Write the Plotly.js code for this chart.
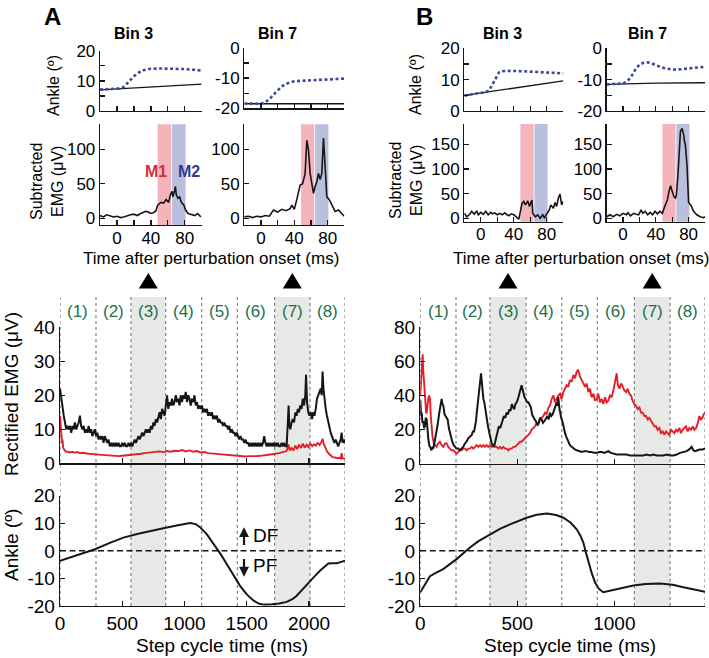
<!DOCTYPE html>
<html><head><meta charset="utf-8">
<script src="https://cdn.plot.ly/plotly-3.0.1.min.js"></script>
<style>html,body{margin:0;padding:0;background:#fff;}#chart{width:709px;height:658px;}</style>
</head><body><div id="chart"></div>
<script>
// ---------------- DATA ----------------
// step-cycle bin edges (ms)
const binEdgesA = [0, 289, 570, 849, 1138, 1424, 1724, 2008, 2289];
const binEdgesB = [0, 184, 359, 545, 729, 912, 1103, 1287, 1467];
const binLabels = ['(1)','(2)','(3)','(4)','(5)','(6)','(7)','(8)'];
const shadedBins = [2, 6];           // bins 3 and 7 (0-based)
const m1Window = [48, 64];
const m2Window = [65, 81];

// Panel A, Bin 3: ankle (deg)
const aB3BaseT = [-20, 100];
const aB3Base  = [7.0, 8.9];
const aB3PertT = [-20,-10,0,4,8,12,16,20,24,28,32,40,50,60,70,80,90,100];
const aB3Pert  = [7.1,7.2,7.3,7.5,8.0,9.0,10.3,11.5,12.5,13.2,13.6,14.0,14.1,14.1,14.0,13.9,13.7,13.4];
// Panel A, Bin 7: ankle
const aB7BaseT = [-20, 100];
const aB7Base  = [-18.5, -18.5];
const aB7PertT = [-20,-10,0,5,10,15,20,25,30,35,40,50,60,70,80,90,100];
const aB7Pert  = [-18.4,-18.5,-18.5,-18.0,-17.0,-15.5,-14.0,-12.8,-11.9,-11.4,-11.1,-10.9,-10.8,-10.7,-10.6,-10.4,-10.2];
// Panel B, Bin 3: ankle
const bB3BaseT = [-20, 100];
const bB3Base  = [5.0, 9.6];
const bB3PertT = [-20,-10,0,5,10,14,18,22,26,35,50,65,80,100];
const bB3Pert  = [4.9,5.3,5.7,6.0,6.5,8.5,10.8,12.3,12.7,12.8,12.7,12.5,12.3,12.0];
// Panel B, Bin 7: ankle
const bB7BaseT = [-20, 40, 100];
const bB7Base  = [-11.5, -11.1, -11.0];
const bB7PertT = [-20,-10,0,5,10,15,20,25,30,35,40,50,60,70,80,90,100];
const bB7Pert  = [-11.5,-11.4,-11.2,-10.6,-9.0,-6.8,-5.2,-4.6,-4.5,-4.8,-5.4,-6.3,-6.8,-6.7,-6.4,-6.1,-5.9];

// Subtracted EMG (uV)
const aB3EmgT = [-20,-16,-12,-8,-4,0,4,8,12,16,20,24,28,31,34,37,40,43,46,48,50,52,55,58,61,63,65,66,68,69,70,72,74,76,79,81,84,88,92,95,99];
const aB3Emg  = [4,2,5,3,2,3,1,2,4,5,6,4,7,8,10,9,7,8,11,19,21,23,22,27,23,34,39,31,40,46,34,29,31,23,19,12,7,5,4,7,2];
const aB7EmgT = [-20,-15,-10,-5,0,5,10,15,20,25,30,35,37,40,43,47,50,53,55,57,59,61,63,65,67,69,71,73,75,77,79,82,85,89,93,97,100];
const aB7Emg  = [2,3,1,3,2,4,3,12,9,13,11,14,19,13,27,48,50,65,113,99,65,48,36,46,53,65,56,65,116,75,31,27,19,10,12,7,3];
const bB3EmgT = [-20,-17,-14,-11,-8,-5,-3,0,3,6,9,12,14,17,20,23,26,29,31,34,37,40,43,46,48,50,52,54,57,59,62,63,66,69,72,75,77,80,83,85,88,90,92,94,96,98,100];
const bB3Emg  = [10,3,7,14,8,15,7,12,8,14,7,12,9,11,7,10,7,11,8,5,9,7,3,-2,14,30,34,27,35,24,37,10,3,7,0,7,1,10,17,27,20,32,24,41,49,27,34];
const bB7EmgT = [-20,-16,-12,-8,-4,0,4,6,9,13,16,19,22,24,27,30,33,36,39,42,45,48,50,52,54,56,58,60,62,64,65,67,69,70,72,74,75,76,78,79,80,83,86,90,94,98,100];
const bB7Emg  = [3,7,3,8,5,10,7,11,5,10,8,7,17,10,14,7,12,7,14,9,14,10,20,30,37,54,66,54,44,41,47,88,142,176,182,169,155,149,108,54,32,26,14,7,3,1,3];

// Rectified EMG over step cycle, panel A (uV)
const aEmgBlackT = [0,10,20,30,40,50,60,70,80,90,100,110,120,130,140,150,160,170,180,190,200,210,220,230,240,250,260,270,280,290,300,310,320,330,340,350,360,370,380,390,400,410,420,430,440,450,460,470,480,490,500,510,520,530,540,550,560,570,580,590,600,610,620,630,640,650,660,670,680,690,700,710,720,730,740,750,760,770,780,790,800,810,820,830,840,850,860,870,880,890,900,910,920,930,940,950,960,970,980,990,1000,1010,1020,1030,1040,1050,1060,1070,1080,1090,1100,1110,1120,1130,1140,1150,1160,1170,1180,1190,1200,1210,1220,1230,1240,1250,1260,1270,1280,1290,1300,1310,1320,1330,1340,1350,1360,1370,1380,1390,1400,1410,1420,1430,1440,1450,1460,1470,1480,1490,1500,1510,1520,1530,1540,1550,1560,1570,1580,1590,1600,1610,1620,1630,1640,1650,1660,1670,1680,1690,1700,1710,1720,1730,1740,1750,1760,1770,1780,1790,1800,1810,1820,1830,1836,1842,1850,1860,1870,1880,1890,1900,1910,1920,1930,1940,1950,1960,1970,1976,1984,1994,2004,2014,2024,2034,2044,2054,2064,2074,2084,2094,2102,2109,2116,2124,2134,2144,2154,2164,2174,2184,2194,2204,2214,2224,2234,2244,2254,2262,2270,2280,2289];
const aEmgBlack = [22,19,17,14,12,10,11,10,11,9, 11,10,12,10,11,12,14,11,10,11, 9,10,9,11,9,10,8,9,10,8, 9,7,8,7,8,6,8,7,6,7, 5,6,5,6,5,6,5,6,5,5, 6,5,6,5,5,6,5,6,5,6, 7,6,7,8,7,8,9,8,9,10, 9,10,9,11,10,12,11,13,12,14, 15,13,16,15,14,17,20,16,18,17, 19,17,18,20,18,19,17,20,18,20, 19,21,18,20,19,17,19,18,20,17, 18,16,17,16,17,15,16,15,16,14, 15,14,15,13,14,13,14,12,13,12, 12,11,12,11,11,10,11,9,10,9, 9,8,9,8,7,8,7,7,6,7, 6,6,5,6,5,6,5,6,5,6, 5,6,5,6,8,6,5,6,5,6, 5,6,5,6,5,6,5,5,6,5, 6,5,5,12, 17,11,10,12,13,12,15,14,16,15, 17,16,19,17,20,26,18,15,14,15, 13,15,14,16,19,20,21,22,20,27, 22,19,16,14,12,10,9,8,7,6, 7,6,5,6,7,9,6,7,6];
const aEmgRedT = [0,4,8,12,16,20,26,34,45,60,80,100,120,140,160,180,200,230,260,290,320,350,380,410,440,470,500,530,560,590,620,650,680,710,740,770,800,830,860,890,920,950,980,1010,1040,1070,1100,1130,1160,1190,1220,1250,1280,1310,1340,1370,1400,1430,1460,1490,1520,1550,1580,1610,1640,1670,1700,1730,1760,1790,1820,1835,1845,1860,1875,1890,1905,1920,1935,1950,1965,1980,1995,2010,2025,2040,2055,2070,2085,2100,2109,2118,2130,2145,2160,2175,2190,2210,2230,2245,2255,2262,2268,2280,2289];
const aEmgRed = [14,11,8,9,6,7,4.5,4,3.5,3.4, 3.2,3.4,3.1,3.3,3,3.1,2.9,2.8,2.7,2.6, 2.5,2.4,2.3,2.2,2.2,2.1,2.2,2.3,2.3,2.5, 2.7,2.8,3.0,3.1,3.3,3.2,3.5,3.3,3.6,3.4, 3.7,3.6,3.9,3.5,3.8,3.4,3.6,3.2,3.3,3.0, 2.9,2.8,2.6,2.6,2.4,2.3,2.3,2.1,2.0,2.0, 2.1,2.0,2.1,2.2,2.3,2.4,2.6,2.8,3.0,3.3, 3.6,5.5,3.8,4.5,3.8,5.2,4.2,5.5,4.5,5.8, 4.6,5.5,4.8,5.8,5.0,5.6,5.2,6.0,5.4,6.3, 7.2,5.8,4.5,3.5,2.8,2.2,1.8,1.7,1.5,1.6, 1.4,3.0,1.5,1.4,1.3];

// Rectified EMG, panel B (uV)
const bEmgBlackT = [0,4,7,11,15,20,24,28,33,37,41,46,50,54,58,63,67,72,76,82,88,93,98,104,110,114,119,125,131,136,141,147,153,159,165,172,179,187,196,204,213,221,230,238,247,256,265,271,277,282,287,291,295,300,304,308,313,317,321,325,330,336,342,349,356,362,368,374,380,386,393,399,405,412,419,425,431,438,445,452,459,465,472,478,484,490,497,503,509,515,522,526,531,537,543,550,557,563,570,576,582,589,596,603,610,617,625,632,639,647,655,661,668,675,682,688,694,699,703,707,711,716,720,726,732,739,746,752,759,765,771,780,789,797,806,819,832,845,857,870,883,896,909,922,935,948,960,969,982,995,1012,1029,1046,1063,1080,1098,1115,1132,1149,1166,1184,1201,1218,1235,1252,1270,1287,1304,1321,1338,1355,1373,1386,1398,1407,1416,1428,1441,1454,1467];
const bEmgBlack = [37,28,30,24,25,21,22,27,26,18, 15,11,10,8,8,10,9,12,14,18, 22,27,30,34,38,35,34,29,28,27, 26,21,18,15,13,11,10,9,9,8, 9,10,12,13,15,16,17,19,19,22, 25,30,35,40,45,50,53,48,42,38, 36,31,27,22,18,14,12,11,10,13, 17,20,22,21,24,26,28,27,30,29, 32,31,35,33,32,35,36,38,40,43, 46,44,42,39,38,36,36,34,33,29, 27,26,25,23,24,27,26,24,25,27, 28,26,30,28,29,31,33,35,36,34, 39,33,30,27,25,21,18,16,14,12, 11,10,9,8.5,8,7.5,7,7.5,7.5,7, 7,6.5,6.5,7,7,6.5,7,7.5,6.5,6, 5.5,5.5,5.5,5.5,5,5,5,5,5,5.5, 5,5.5,5,5,5,5.5,5,5,5.5,6.5, 7,7.5,8.5,10,8,7.5,8,8.5,8.5,9];
const bEmgRedT = [0,4,7,10,12,15,19,22,26,30,33,37,41,45,50,54,58,63,70,77,84,92,101,110,119,127,136,144,153,161,170,178,187,195,204,213,222,230,239,247,256,265,273,282,290,299,308,316,325,333,342,350,359,368,376,385,394,402,411,419,428,436,445,454,462,471,480,488,497,505,514,522,531,539,548,556,565,573,582,591,599,608,617,625,634,643,651,660,668,677,686,694,703,711,720,728,737,745,754,762,771,780,789,797,806,814,823,832,840,849,857,866,874,883,892,900,909,917,926,935,943,952,960,969,977,986,995,1003,1008,1012,1018,1026,1035,1043,1052,1060,1069,1077,1086,1094,1103,1112,1120,1129,1137,1146,1155,1163,1172,1180,1189,1197,1206,1215,1223,1232,1240,1249,1258,1266,1275,1283,1292,1301,1309,1318,1326,1335,1343,1352,1361,1369,1378,1386,1395,1404,1412,1421,1430,1438,1446,1454,1460,1467];
const bEmgRed = [40,50,60,58,64,55,48,40,35,30, 30,36,38,40,38,28,22,16,12,11, 10,12,13,11,10,12,12,10,9,8, 8,7,6,7,8,8,9,9,8,9, 9,10,9,10,11,10,11,10,11,10, 11,10,11,10,11,10,10,9,10,9, 10,9,9,8,9,9,10,10,11,12, 13,13,14,15,16,17,18,20,21,22, 24,23,26,27,28,30,29,33,34,38, 40,36,38,40,41,38,42,44,46,45, 49,48,52,50,54,55,51,49,47,45, 47,42,44,39,41,37,38,41,36,38, 35,39,36,37,40,39,43,47,50,53, 46,44,47,45,43,42,44,41,40,37, 35,34,32,33,30,30,28,28,26,27, 25,24,22,22,20,21,18,19,17,19, 18,17,20,19,18,20,19,21,18,20, 21,22,19,21,20,22,20,21,24,28, 26,27,29,30];

// Ankle angle over step cycle (deg)
const aAnkleT = [0,140,281,400,509,620,723,830,937,1000,1044,1090,1124,1180,1231,1290,1339,1400,1446,1500,1553,1600,1640,1700,1760,1821,1870,1901,1950,2008,2050,2088,2120,2155,2190,2222,2260,2289];
const aAnkle  = [-3.6,-1.5,0.6,2.9,4.8,6.1,7.2,8.2,9.2,9.8,10.1,9.7,8.6,6.0,2.8,-1.2,-4.8,-9.5,-12.7,-15.8,-18.0,-19.2,-19.5,-19.4,-19.1,-18.5,-17.4,-16.3,-13.8,-10.9,-9.0,-7.2,-5.8,-4.6,-4.5,-4.5,-4.0,-3.6];
const bAnkleT = [0,25,50,80,118,187,256,300,359,410,462,548,600,652,700,737,775,806,825,840,853,866,883,900,920,943,965,995,1040,1098,1160,1235,1300,1356,1410,1467];
const bAnkle  = [-15,-12,-9.2,-8,-6.6,-3,1.2,3.5,6,8,9.6,12,13.1,13.5,13,12,10.2,7.8,5.5,3,-0.5,-4.2,-8,-11.4,-13.8,-15,-14.6,-14.1,-13.5,-12.6,-12,-11.8,-12.3,-13.2,-14,-14.8];

// ---------------- LAYOUT HELPERS ----------------
const W = 709, H = 658;
const FONT = 'Liberation Sans, Arial, Helvetica, sans-serif';
const INK = '#161616';
const dx = (a, b) => [a / W, b / W];
const dy = (top, bot) => [1 - bot / H, 1 - top / H];
const py = p => 1 - p / H;

function axis(extra) {
  return Object.assign({
    showline: true, linecolor: INK, linewidth: 1.3, showgrid: false, zeroline: false,
    ticks: 'inside', ticklen: 5, tickwidth: 1.3, tickcolor: INK, fixedrange: true,
    tickfont: {family: FONT, size: 17, color: '#000'}, tickmode: 'array'
  }, extra);
}
const pertTicks = [-20, 0, 20, 40, 60, 80, 100];
const pertText = ['', '0', '', '40', '', '80', ''];
const big = {family: FONT, size: 19, color: '#000'};
const smallX = {tickvals: pertTicks, ticktext: pertText, ticklabelstandoff: -3};

const layout = {
  width: W, height: H, margin: {l: 0, r: 0, t: 0, b: 0},
  paper_bgcolor: '#fff', plot_bgcolor: 'rgba(0,0,0,0)', showlegend: false,
  font: {family: FONT, color: '#000'},
  // A bin 3
  xaxis:  axis({domain: dx(100, 201.7), range: [-20, 100], anchor: 'y',  tickvals: pertTicks, showticklabels: false}),
  yaxis:  axis({domain: dy(50.7, 111), range: [0, 20], anchor: 'x', tickvals: [0,5,10,15,20], ticktext: ['0','','10','','20']}),
  xaxis2: axis(Object.assign({domain: dx(100, 201.7), range: [-20, 100], anchor: 'y2'}, smallX)),
  yaxis2: axis({domain: dy(124.3, 225), range: [-9.7, 136], anchor: 'x2', tickvals: [0,50,100], ticktext: ['0','50','100']}),
  // A bin 7
  xaxis3: axis({domain: dx(244.3, 344.3), range: [-20, 100], anchor: 'y3', tickvals: pertTicks, showticklabels: false}),
  yaxis3: axis({domain: dy(47.7, 108.3), range: [-20, 0], anchor: 'x3', tickvals: [-20,-15,-10,-5,0], ticktext: ['-20','','-10','','0']}),
  xaxis4: axis(Object.assign({domain: dx(244.3, 344.3), range: [-20, 100], anchor: 'y4'}, smallX)),
  yaxis4: axis({domain: dy(124.3, 225), range: [-9.7, 136], anchor: 'x4', tickvals: [0,50,100], ticktext: ['0','50','100']}),
  // B bin 3
  xaxis5: axis({domain: dx(464.3, 563.3), range: [-20, 100], anchor: 'y5', tickvals: pertTicks, showticklabels: false}),
  yaxis5: axis({domain: dy(48.3, 111), range: [0, 20], anchor: 'x5', tickvals: [0,5,10,15,20], ticktext: ['0','','10','','20']}),
  xaxis6: axis(Object.assign({domain: dx(464.3, 563.3), range: [-20, 100], anchor: 'y6'}, smallX)),
  yaxis6: axis({domain: dy(124, 221.7), range: [-7, 191], anchor: 'x6', tickvals: [0,50,100,150], ticktext: ['0','50','100','150']}),
  // B bin 7
  xaxis7: axis({domain: dx(606.7, 705), range: [-20, 100], anchor: 'y7', tickvals: pertTicks, showticklabels: false}),
  yaxis7: axis({domain: dy(48.3, 111), range: [-20, 0], anchor: 'x7', tickvals: [-20,-15,-10,-5,0], ticktext: ['-20','','-10','','0']}),
  xaxis8: axis(Object.assign({domain: dx(606.7, 705), range: [-20, 100], anchor: 'y8'}, smallX)),
  yaxis8: axis({domain: dy(124, 221.7), range: [-7, 191], anchor: 'x8', tickvals: [0,50,100,150], ticktext: ['0','50','100','150']}),
  // A step cycle
  xaxis9:  axis({domain: dx(60, 345), range: [0, 2289], anchor: 'y9', tickvals: [500,1000,1500,2000], showticklabels: false}),
  yaxis9:  axis({domain: dy(327.3, 463.3), range: [0, 40], anchor: 'x9', tickvals: [0,10,20,30,40], ticktext: ['0','10','20','30','40'], tickfont: big}),
  xaxis10: axis({domain: dx(60, 345), range: [0, 2289], anchor: 'y10', tickvals: [0,500,1000,1500,2000], ticktext: ['0','500','1000','1500','2000'], tickfont: big}),
  yaxis10: axis({domain: dy(495.7, 606), range: [-20, 20], anchor: 'x10', tickvals: [-20,-10,0,10,20], ticktext: ['-20','-10','0','10','20'], tickfont: big}),
  // B step cycle
  xaxis11: axis({domain: dx(420.3, 705), range: [0, 1467], anchor: 'y11', tickvals: [500,1000], showticklabels: false}),
  yaxis11: axis({domain: dy(327, 464), range: [0, 80], anchor: 'x11', tickvals: [0,20,40,60,80], ticktext: ['0','20','40','60','80'], tickfont: big}),
  xaxis12: axis({domain: dx(420.3, 705), range: [0, 1467], anchor: 'y12', tickvals: [0,500,1000], ticktext: ['0','500','1000'], tickfont: big}),
  yaxis12: axis({domain: dy(495.7, 606), range: [-20, 20], anchor: 'x12', tickvals: [-20,-10,0,10,20], ticktext: ['-20','-10','0','10','20'], tickfont: big}),
  shapes: [], annotations: []
};

// ---------------- TRACES ----------------
const traces = [];
function line(x, y, xa, ya, color, width, dash) {
  traces.push({type: 'scatter', mode: 'lines', x: x, y: y, xaxis: xa, yaxis: ya,
    line: {color: color, width: width, dash: dash || 'solid'}, hoverinfo: 'skip', cliponaxis: true});
}
const BLUE = '#3b4a9b', RED = '#e3202a';
line(aB3BaseT, aB3Base, 'x', 'y', INK, 1.4);
line(aB3PertT, aB3Pert, 'x', 'y', BLUE, 2.6, '3px,2.5px');
line(aB7BaseT, aB7Base, 'x3', 'y3', INK, 1.4);
line(aB7PertT, aB7Pert, 'x3', 'y3', BLUE, 2.6, '3px,2.5px');
line(bB3BaseT, bB3Base, 'x5', 'y5', INK, 1.4);
line(bB3PertT, bB3Pert, 'x5', 'y5', BLUE, 2.6, '3px,2.5px');
line(bB7BaseT, bB7Base, 'x7', 'y7', INK, 1.4);
line(bB7PertT, bB7Pert, 'x7', 'y7', BLUE, 2.6, '3px,2.5px');
line(aB3EmgT, aB3Emg, 'x2', 'y2', INK, 1.6);
line(aB7EmgT, aB7Emg, 'x4', 'y4', INK, 1.6);
line(bB3EmgT, bB3Emg, 'x6', 'y6', INK, 1.6);
line(bB7EmgT, bB7Emg, 'x8', 'y8', INK, 1.6);
line(aEmgRedT, aEmgRed, 'x9', 'y9', RED, 1.9);
line(aEmgBlackT, aEmgBlack, 'x9', 'y9', INK, 2.0);
line(bEmgRedT, bEmgRed, 'x11', 'y11', RED, 1.9);
line(bEmgBlackT, bEmgBlack, 'x11', 'y11', INK, 2.0);
line(aAnkleT, aAnkle, 'x10', 'y10', INK, 2.0);
line(bAnkleT, bAnkle, 'x12', 'y12', INK, 2.0);

// ---------------- SHAPES ----------------
const S = layout.shapes, A = layout.annotations;
// M1 / M2 windows in the four subtracted EMG panels
['x2','x4','x6','x8'].forEach((xa, i) => {
  const ya = ['y2','y4','y6','y8'][i];
  S.push({type: 'rect', layer: 'below', xref: xa, yref: ya + ' domain', x0: m1Window[0], x1: m1Window[1], y0: 0, y1: 1, fillcolor: '#f5b4b9', line: {width: 0}});
  S.push({type: 'rect', layer: 'below', xref: xa, yref: ya + ' domain', x0: m2Window[0], x1: m2Window[1], y0: 0, y1: 1, fillcolor: '#bbbfde', line: {width: 0}});
});
// step-cycle bins
function bins(edges, xa) {
  shadedBins.forEach(b => S.push({type: 'rect', layer: 'below', xref: xa, yref: 'paper', x0: edges[b], x1: edges[b + 1], y0: py(606), y1: py(297), fillcolor: '#e7e9e7', line: {width: 0}}));
  edges.forEach(e => S.push({type: 'line', layer: 'below', xref: xa, yref: 'paper', x0: e, x1: e, y0: py(606), y1: py(297), line: {color: '#7a7a7a', width: 1.1, dash: 'dot'}}));
  shadedBins.forEach(b => S.push({type: 'path', xref: xa, yref: 'paper', xsizemode: 'pixel', ysizemode: 'pixel',
    xanchor: (edges[b] + edges[b + 1]) / 2, yanchor: py(288.5), path: 'M-9.5,0 L9.5,0 L0,15.5 Z', fillcolor: '#000', line: {width: 0}}));
  binLabels.forEach((t, i) => A.push({xref: xa, yref: 'paper', x: (edges[i] + edges[i + 1]) / 2, y: py(311), text: t, showarrow: false,
    font: {family: FONT, size: 17, color: '#1d7047'}, xanchor: 'center', yanchor: 'middle'}));
}
bins(binEdgesA, 'x9');
bins(binEdgesB, 'x11');
// zero lines in ankle plots
['10', '12'].forEach(n => S.push({type: 'line', xref: 'x' + n + ' domain', yref: 'y' + n, x0: 0, x1: 1, y0: 0, y1: 0, line: {color: INK, width: 1.5, dash: '6px,3.5px'}}));

// ---------------- ANNOTATIONS ----------------
function txt(x, y, text, size, opts) {
  A.push(Object.assign({xref: 'paper', yref: 'paper', x: x / W, y: py(y), text: text, showarrow: false,
    font: {family: FONT, size: size, color: '#000'}, xanchor: 'center', yanchor: 'middle'}, opts || {}));
}
txt(53, 16, '<b>A</b>', 24);
txt(425, 16, '<b>B</b>', 24);
txt(133, 33, '<b>Bin 3</b>', 16);
txt(277, 33, '<b>Bin 7</b>', 16);
txt(502, 33, '<b>Bin 3</b>', 16);
txt(647, 33, '<b>Bin 7</b>', 16);
txt(53, 85, 'Ankle (º)', 16, {textangle: -90});
txt(415, 85, 'Ankle (º)', 16, {textangle: -90});
txt(47, 181, 'Subtracted<br>EMG (μV)', 16, {textangle: -90});
txt(406, 181, 'Subtracted<br>EMG (μV)', 16, {textangle: -90});
txt(211, 258.5, 'Time after perturbation onset (ms)', 17);
txt(581, 258.5, 'Time after perturbation onset (ms)', 17);
txt(11, 394, 'Rectified EMG (μV)', 19, {textangle: -90});
txt(11, 545, 'Ankle (º)', 19, {textangle: -90});
txt(222, 645, 'Step cycle time (ms)', 19);
txt(570, 645, 'Step cycle time (ms)', 19);
// M1 / M2 labels
A.push({xref: 'x2', yref: 'y2', x: 46, y: 67.5, text: '<b>M1</b>', showarrow: false, font: {family: FONT, size: 16, color: '#d2313c'}});
A.push({xref: 'x2', yref: 'y2', x: 84.6, y: 67.5, text: '<b>M2</b>', showarrow: false, font: {family: FONT, size: 16, color: '#343a94'}});
// DF / PF arrows
A.push({xref: 'x10', yref: 'y10', axref: 'x10', ayref: 'y10', x: 1478, y: 8.6, ax: 1478, ay: 1.6, text: '', showarrow: true, arrowhead: 2, arrowsize: 0.9, arrowwidth: 2.2, arrowcolor: INK});
A.push({xref: 'x10', yref: 'y10', axref: 'x10', ayref: 'y10', x: 1478, y: -9.4, ax: 1478, ay: -2.4, text: '', showarrow: true, arrowhead: 2, arrowsize: 0.9, arrowwidth: 2.2, arrowcolor: INK});
A.push({xref: 'x10', yref: 'y10', x: 1535, y: 5.4, text: 'DF', showarrow: false, xanchor: 'left', yanchor: 'middle', font: big});
A.push({xref: 'x10', yref: 'y10', x: 1535, y: -5.2, text: 'PF', showarrow: false, xanchor: 'left', yanchor: 'middle', font: big});

Plotly.newPlot('chart', traces, layout, {staticPlot: true, displayModeBar: false});
</script></body></html>
